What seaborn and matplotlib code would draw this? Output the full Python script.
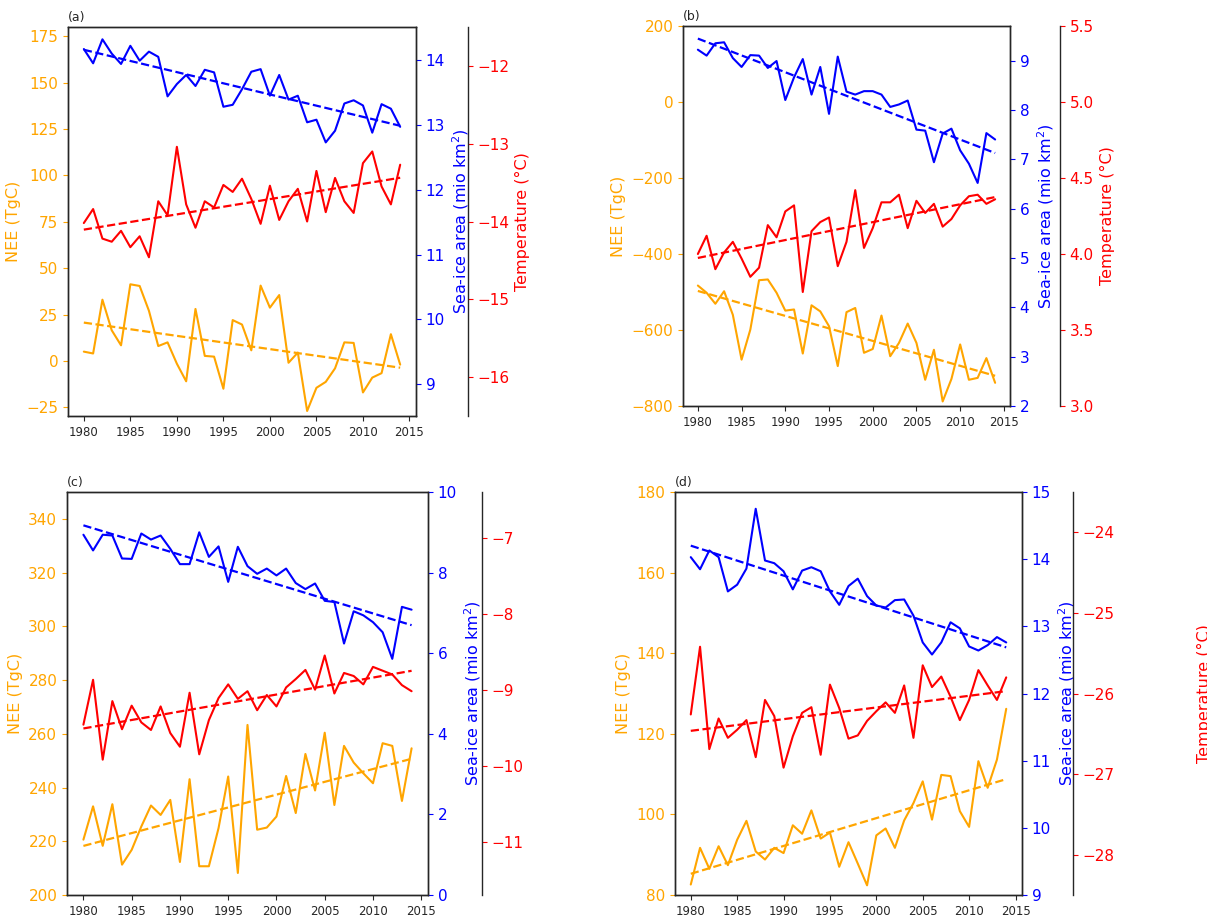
import numpy as np
import pandas as pd
import matplotlib
matplotlib.use("Agg")
import matplotlib.pyplot as plt
import seaborn as sns
from matplotlib.transforms import Bbox, TransformedBbox

# ---- Data ----
years = np.arange(1980, 2015)

nee_a = [5, 4, 33, 16.5, 8.4, 41.3, 40.4, 27, 8, 10, -1.5, -11, 28, 2.7, 2.3, -15, 22, 19.6, 5.7, 40.6,
         28.7, 35.5, -1, 4.5, -27, -14.5, -11.3, -4, 10, 9.7, -17, -9, -6.6, 14.4, -2]
ice_a = [14.17, 13.95, 14.32, 14.10, 13.94, 14.22, 13.99, 14.13, 14.05, 13.44, 13.63, 13.77, 13.60, 13.85,
         13.81, 13.28, 13.31, 13.55, 13.82, 13.86, 13.45, 13.77, 13.39, 13.45, 13.04, 13.08, 12.73, 12.91,
         13.33, 13.38, 13.30, 12.88, 13.32, 13.25, 12.97]
temp_a = [-14.02, -13.84, -14.22, -14.26, -14.12, -14.33, -14.19, -14.46, -13.74, -13.92, -13.04, -13.78,
          -14.08, -13.74, -13.82, -13.53, -13.62, -13.45, -13.71, -14.03, -13.54, -13.98, -13.74, -13.58,
          -14.0, -13.35, -13.88, -13.44, -13.74, -13.89, -13.25, -13.10, -13.55, -13.78, -13.27]

nee_b = [-483, -502, -531, -498, -560, -678, -599, -469, -467, -502, -549, -546, -662, -535, -551, -590,
         -695, -553, -542, -660, -650, -562, -669, -634, -583, -634, -731, -652, -788, -729, -638, -731,
         -726, -674, -739]
ice_b = [9.22, 9.10, 9.35, 9.37, 9.05, 8.87, 9.11, 9.10, 8.85, 8.99, 8.20, 8.66, 9.03, 8.31, 8.87, 7.92,
         9.08, 8.37, 8.31, 8.38, 8.38, 8.31, 8.06, 8.11, 8.19, 7.60, 7.58, 6.94, 7.52, 7.62, 7.18, 6.91,
         6.52, 7.53, 7.40]
temp_b = [4.00, 4.12, 3.90, 4.01, 4.08, 3.97, 3.85, 3.91, 4.19, 4.11, 4.28, 4.32, 3.75, 4.15, 4.21, 4.24,
          3.92, 4.08, 4.42, 4.04, 4.17, 4.34, 4.34, 4.39, 4.17, 4.35, 4.27, 4.33, 4.18, 4.23, 4.32, 4.38,
          4.39, 4.33, 4.36]

nee_c = [220.6, 233.0, 218.3, 233.8, 211.3, 216.8, 225.5, 233.3, 229.8, 235.4, 212.3, 243.1, 210.7, 210.7,
         224.9, 244.1, 208.2, 263.3, 224.3, 225.1, 229.2, 244.3, 230.5, 252.5, 238.9, 260.4, 233.5, 255.5,
         249.3, 245.3, 241.6, 256.5, 255.5, 235.0, 254.6]
ice_c = [8.94, 8.55, 8.94, 8.92, 8.35, 8.34, 8.97, 8.82, 8.92, 8.59, 8.21, 8.21, 9.00, 8.39, 8.65, 7.77,
         8.64, 8.16, 7.97, 8.10, 7.93, 8.10, 7.74, 7.59, 7.73, 7.30, 7.27, 6.24, 7.04, 6.94, 6.77, 6.52,
         5.86, 7.15, 7.08]
temp_c = [-9.46, -8.87, -9.92, -9.15, -9.52, -9.21, -9.43, -9.53, -9.22, -9.57, -9.75, -9.04, -9.85, -9.40,
          -9.11, -8.93, -9.12, -9.02, -9.27, -9.07, -9.22, -8.97, -8.86, -8.74, -9.00, -8.55, -9.05, -8.78,
          -8.82, -8.93, -8.70, -8.75, -8.80, -8.94, -9.02]

nee_d = [82.6, 91.7, 86.5, 92.1, 87.4, 93.7, 98.4, 90.8, 88.8, 91.7, 90.4, 97.3, 95.2, 101.0, 94.0, 95.5,
         87.0, 93.1, 87.8, 82.4, 94.8, 96.5, 91.7, 98.5, 102.8, 108.2, 98.7, 109.8, 109.5, 100.8, 96.9,
         113.2, 106.6, 113.6, 126.2]
ice_d = [14.03, 13.85, 14.13, 14.03, 13.52, 13.62, 13.86, 14.75, 13.98, 13.94, 13.82, 13.55, 13.83, 13.88,
         13.82, 13.52, 13.32, 13.60, 13.71, 13.45, 13.31, 13.28, 13.39, 13.40, 13.16, 12.76, 12.58, 12.76,
         13.06, 12.97, 12.70, 12.64, 12.72, 12.84, 12.76]
temp_d = [-26.26, -25.42, -26.69, -26.31, -26.55, -26.45, -26.33, -26.79, -26.08, -26.28, -26.92, -26.53,
          -26.24, -26.17, -26.76, -25.89, -26.18, -26.56, -26.52, -26.34, -26.22, -26.11, -26.24, -25.90,
          -26.55, -25.65, -25.92, -25.79, -26.04, -26.33, -26.08, -25.71, -25.90, -26.08, -25.80]

W, H, DPI = 1207, 919, 100

sns.set_style("ticks")
plt.rcParams["axes.linewidth"] = 1.0
plt.rcParams["font.family"] = ["DejaVu Sans"]

fig = plt.figure(figsize=(W / DPI, H / DPI), dpi=DPI)


def px_rect(left, top, right, bottom):
    return [left / W, 1 - bottom / H, (right - left) / W, (bottom - top) / H]


def series(ax, y, color):
    df = pd.DataFrame({"year": years, "value": y})
    sns.lineplot(data=df, x="year", y="value", ax=ax, color=color, lw=1.5, legend=False)
    # linear trend
    coef = np.polyfit(years, y, 1)
    sns.lineplot(x=years, y=np.polyval(coef, years), ax=ax, color=color, lw=1.6,
                 linestyle="--", legend=False)


def panel(rect, tag, nee, ice, temp, nee_lim, ice_lim, temp_lim, nee_ticks, ice_ticks, temp_ticks,
          spine_px, temp_pad=4, clip_x=None):
    ax = fig.add_axes(rect)
    ax2 = ax.twinx()
    ax3 = ax.twinx()

    series(ax, nee, "orange")
    series(ax2, ice, "blue")
    series(ax3, temp, "red")

    ax.set_ylim(*nee_lim)
    ax2.set_ylim(*ice_lim)
    ax3.set_ylim(*temp_lim)
    ax.set_yticks(nee_ticks)
    ax2.set_yticks(ice_ticks)
    ax3.set_yticks(temp_ticks)
    ax.set_xticks(np.arange(1980, 2016, 5))

    ax.set_xlabel("")
    ax.set_ylabel("NEE (TgC)", color="orange", fontsize=11.5)
    ax2.set_ylabel("Sea-ice area (mio km$^2$)", color="blue", fontsize=11.5)
    ax3.set_ylabel("Temperature (°C)", color="red", fontsize=11.5, labelpad=temp_pad)

    ax.tick_params(axis="y", colors="orange", labelsize=11)
    ax2.tick_params(axis="y", colors="blue", labelsize=11)
    ax3.tick_params(axis="y", colors="red", labelsize=11)
    ax.tick_params(axis="x", labelsize=8.5, colors=".15")

    ax3.spines["right"].set_position(("outward", spine_px * 72 / DPI))
    for s in ["top", "left", "bottom"]:
        ax3.spines[s].set_visible(False)

    ax.set_title(tag, loc="left", fontsize=9, pad=4)

    if clip_x is not None:
        lab = ax3.yaxis.label
        lab.set_clip_box(TransformedBbox(Bbox([[0, 0], [clip_x / W, 1]]), fig.transFigure))
        lab.set_clip_on(True)


panel(px_rect(68, 27, 416, 416), "(a)", nee_a, ice_a, temp_a,
      (-29.7, 180), (8.51, 14.51), (-16.5, -11.5),
      np.arange(-25, 176, 25), np.arange(9, 15), np.arange(-16, -11), 52)

panel(px_rect(683, 26, 1010, 406), "(b)", nee_b, ice_b, temp_b,
      (-800, 200), (2, 9.7), (3.0, 5.5),
      np.arange(-800, 201, 200), np.arange(2, 10), np.arange(3.0, 5.51, 0.5), 50)

panel(px_rect(67, 492, 428, 895), "(c)", nee_c, ice_c, temp_c,
      (200, 350), (0, 10), (-11.7, -6.4),
      np.arange(200, 341, 20), np.arange(0, 11, 2), np.arange(-11, -6), 54,
      temp_pad=58, clip_x=602)

panel(px_rect(675, 492, 1022, 895), "(d)", nee_d, ice_d, temp_d,
      (80, 180), (9, 15), (-28.5, -23.5),
      np.arange(80, 181, 20), np.arange(9, 16), np.arange(-28, -23), 51,
      temp_pad=59)

fig.savefig("out.png", dpi=DPI)
